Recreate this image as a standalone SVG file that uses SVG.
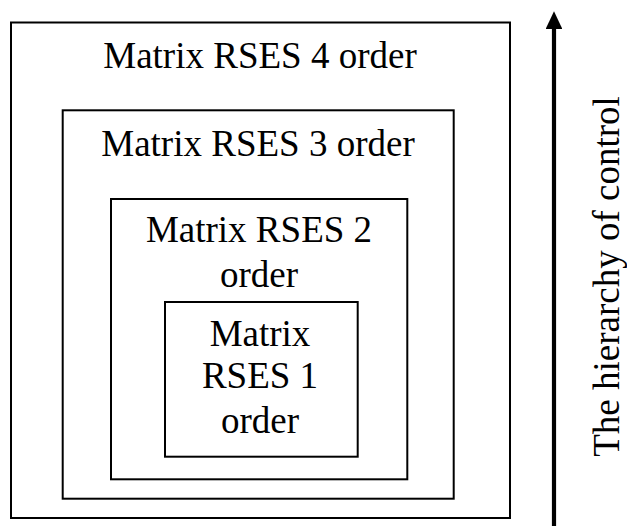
<svg xmlns="http://www.w3.org/2000/svg" width="627" height="526" viewBox="0 0 627 526">
<style>
.box{fill:none;stroke:#000;stroke-width:2}
.t{font-size:37px;fill:#000;text-anchor:middle}
</style>
<defs>
<marker id="ah" markerWidth="4.2" markerHeight="4" refX="0" refY="2" orient="auto" markerUnits="strokeWidth">
<path d="M0,0 L4.2,2 L0,4 Z" fill="#000"/>
</marker>
</defs>
<rect x="0" y="0" width="627" height="526" fill="#fff"/>
<g font-family="'Liberation Serif', 'Times New Roman', 'DejaVu Serif', serif">
<g id="node4">
<rect class="box" x="11" y="22.5" width="499" height="495.5"/>
<text class="t" x="260" y="67.7">Matrix RSES 4 order</text>
</g>
<g id="node3">
<rect class="box" x="62.7" y="110.3" width="391" height="388.4"/>
<text class="t" x="258" y="156">Matrix RSES 3 order</text>
</g>
<g id="node2">
<rect class="box" x="111" y="199" width="296.3" height="280.3"/>
<text class="t" x="259" y="241.7">Matrix RSES 2</text>
<text class="t" x="259" y="286.7">order</text>
</g>
<g id="node1">
<rect class="box" x="165" y="302" width="192.7" height="154.7"/>
<text class="t" x="260" y="346">Matrix</text>
<text class="t" x="260" y="388.3">RSES 1</text>
<text class="t" x="260" y="432.5">order</text>
</g>
<g id="connectors">
<line x1="554" y1="526" x2="554" y2="29" stroke="#000" stroke-width="4.2" marker-end="url(#ah)"/>
</g>
<text class="t" transform="translate(619,276.5) rotate(-90)" x="0" y="0">The hierarchy of control</text>
</g>
</svg>
